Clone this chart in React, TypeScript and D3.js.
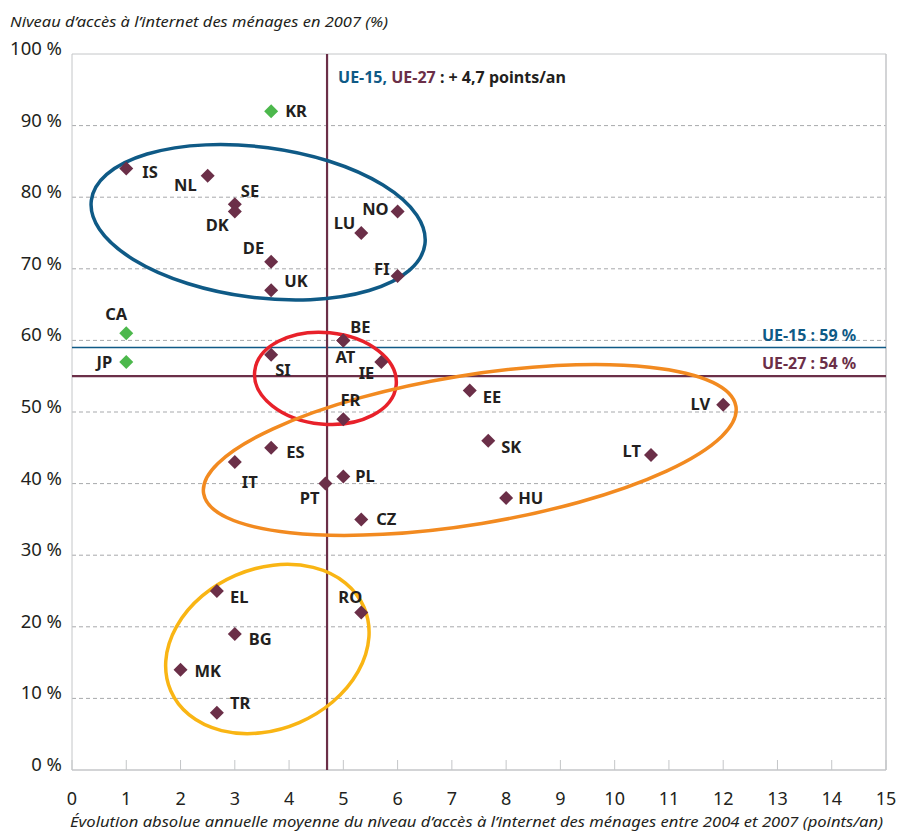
import React from "react";
import * as d3 from "d3";

// pays : code, évolution (points/an), niveau 2007 (%)
const countries = ["KR", "IS", "NL", "SE", "DK", "DE", "UK", "LU", "NO", "FI", "CA", "JP", "BE", "AT", "SI", "IE", "FR", "EE", "LV", "SK", "LT", "HU", "ES", "IT", "PL", "PT", "CZ", "EL", "RO", "BG", "MK", "TR"];
const growth = [3.67, 1, 2.5, 3, 3, 3.67, 3.67, 5.33, 6, 6, 1, 1, 5, 5, 3.67, 5.7, 5, 7.33, 12, 7.67, 10.67, 8, 3.67, 3, 5, 4.67, 5.33, 2.67, 5.33, 3, 2, 2.67];
const access = [92, 84, 83, 79, 78, 71, 67, 75, 78, 69, 61, 57, 60, 60, 58, 57, 49, 53, 51, 46, 44, 38, 45, 43, 41, 40, 35, 25, 22, 19, 14, 8];
const nonEUGreen = ["KR", "CA", "JP"];

const xTicks = d3.range(0, 16);
const yTicks = d3.range(0, 101, 10);

const ue15Level = 59;
const ue27Level = 55; // tracé à 55, libellé 54 %
const ue27Label = "UE-27 : 54 %";
const ue15Label = "UE-15 : 59 %";
const avgGrowth = 4.7;

// placement des étiquettes [dx, dy, ancrage]
const labelPos: Record<string, [number, number, string]> = {
  KR: [14, 6, "start"], IS: [16, 9, "start"], NL: [-11, 15, "end"], SE: [6, -7, "start"],
  DK: [-6, 19, "end"], DE: [-7, -8, "end"], UK: [13, -3, "start"], LU: [-6, -4, "end"],
  NO: [-9, 3, "end"], FI: [-8, -1, "end"], CA: [1, -13, "end"], JP: [-14, 6, "end"],
  BE: [7, -7, "start"], AT: [2, 23, "middle"], SI: [4, 21, "start"], IE: [-7, 17, "end"],
  FR: [7, -13, "middle"], EE: [13, 12, "start"], LV: [-13, 5, "end"], SK: [13, 12, "start"],
  LT: [-10, 2, "end"], HU: [12, 6, "start"], ES: [15, 10, "start"], IT: [7, 26, "start"],
  PL: [12, 6, "start"], PT: [-6, 20, "end"], CZ: [15, 6, "start"], EL: [13, 12, "start"],
  RO: [1, -9, "end"], BG: [14, 11, "start"], MK: [14, 7, "start"], TR: [13, -4, "start"],
};

// groupes entourés : centre (unités des axes), demi-axes (unités), rotation (deg), couleur
const groupCx = [3.43, 4.67, 7.33, 3.6];
const groupCy = [76.5, 54.7, 44.7, 16.9];
const groupRx = [3.1, 1.31, 4.97, 1.94];
const groupRy = [10.5, 6.4, 10.4, 11.2];
const groupRot = [7.5, 5.5, -9.3, -23.4];
const groupColor = ["#0f5a86", "#e8212a", "#f28a20", "#f9b514"];

const W = 900;
const H = 831;
const margin = { left: 72, right: 14, top: 54, bottom: 61 };

const maroon = "#6b2f48";
const blue = "#0f5a86";
const green = "#4cb84c";
const ink = "#231f20";
const font = "'Noto Sans', 'Open Sans', sans-serif";

export default function App() {
  const x = d3.scaleLinear().domain([0, 15]).range([margin.left, W - margin.right]);
  const y = d3.scaleLinear().domain([0, 100]).range([H - margin.bottom, margin.top]);
  const diamond = d3.symbol().type(d3.symbolDiamond2).size(125)() as string;
  const pxX = x(1) - x(0);
  const pxY = y(0) - y(1);

  return (
    <svg width={W} height={H} style={{ position: "absolute", left: 0, top: 0, background: "#fff" }} fontFamily={font}>
      {/* grille */}
      {yTicks.filter((t) => t > 0 && t < 100).map((t) => (
        <line key={t} x1={x(0)} x2={x(15)} y1={y(t)} y2={y(t)} stroke="#a7a9ac" strokeWidth={1} strokeDasharray="4,3" />
      ))}
      {/* cadre */}
      <line x1={x(0)} x2={x(15)} y1={y(100)} y2={y(100)} stroke="#c4c6c8" />
      <line x1={x(0)} x2={x(0)} y1={y(100)} y2={y(0)} stroke="#c4c6c8" />
      <line x1={x(15)} x2={x(15)} y1={y(100)} y2={y(0)} stroke="#c4c6c8" strokeWidth={1.5} />
      <line x1={x(0)} x2={x(15)} y1={y(0)} y2={y(0)} stroke="#c4c6c8" strokeWidth={1.5} />
      {xTicks.map((t) => (
        <line key={t} x1={x(t)} x2={x(t)} y1={y(0)} y2={y(0) - 10} stroke="#c4c6c8" />
      ))}

      {/* axes étiquettes */}
      {yTicks.map((t) => (
        <text key={t} x={62} y={y(t) + 1} textAnchor="end" fontSize={18.5} fill={ink}>{`${t} %`}</text>
      ))}
      {xTicks.map((t) => (
        <text key={t} x={x(t)} y={y(0) + 35} textAnchor="middle" fontSize={18} fill={ink}>{t}</text>
      ))}
      <text x={10} y={27} fontSize={14} fontStyle="italic" fill={ink} textLength={378} lengthAdjust="spacingAndGlyphs">
        Niveau d’accès à l’internet des ménages en 2007 (%)
      </text>
      <text x={70} y={827} fontSize={14.5} fontStyle="italic" fill={ink} textLength={813} lengthAdjust="spacingAndGlyphs">
        Évolution absolue annuelle moyenne du niveau d’accès à l’internet des ménages entre 2004 et 2007 (points/an)
      </text>

      {/* moyennes */}
      <line x1={x(0)} x2={x(15)} y1={y(ue15Level)} y2={y(ue15Level)} stroke={blue} strokeWidth={1.5} />
      <line x1={x(0)} x2={x(15)} y1={y(ue27Level)} y2={y(ue27Level)} stroke={maroon} strokeWidth={2.2} />
      <line x1={x(avgGrowth)} x2={x(avgGrowth)} y1={y(100)} y2={y(0)} stroke={maroon} strokeWidth={2.2} />
      <text x={x(14.45)} y={y(ue15Level) - 7} textAnchor="end" fontSize={16} fontWeight="bold" fill={blue}>{ue15Label}</text>
      <text x={x(14.45)} y={y(ue27Level) - 7} textAnchor="end" fontSize={16} fontWeight="bold" fill={maroon}>{ue27Label}</text>
      <text x={x(avgGrowth) + 11} y={y(96)} fontSize={16} fontWeight="bold">
        <tspan fill={blue}>UE-15, </tspan>
        <tspan fill={maroon}>UE-27</tspan>
        <tspan fill={ink}> : + 4,7 points/an</tspan>
      </text>

      {/* groupes */}
      {groupCx.map((cx, i) => (
        <ellipse key={i} cx={0} cy={0} rx={groupRx[i] * pxX} ry={groupRy[i] * pxY}
          transform={`translate(${x(cx)},${y(groupCy[i])}) rotate(${groupRot[i]})`}
          fill="none" stroke={groupColor[i]} strokeWidth={3.5} />
      ))}

      {/* points */}
      {countries.map((c, i) => {
        const [dx, dy, anchor] = labelPos[c];
        const px = x(growth[i]);
        const py = y(access[i]);
        return (
          <g key={c}>
            <path d={diamond} transform={`translate(${px},${py})`} fill={nonEUGreen.includes(c) ? green : maroon} />
            <text x={px + dx} y={py + dy} textAnchor={anchor as any} fontSize={16.5} fontWeight="bold" fill={ink}>{c}</text>
          </g>
        );
      })}
    </svg>
  );
}
